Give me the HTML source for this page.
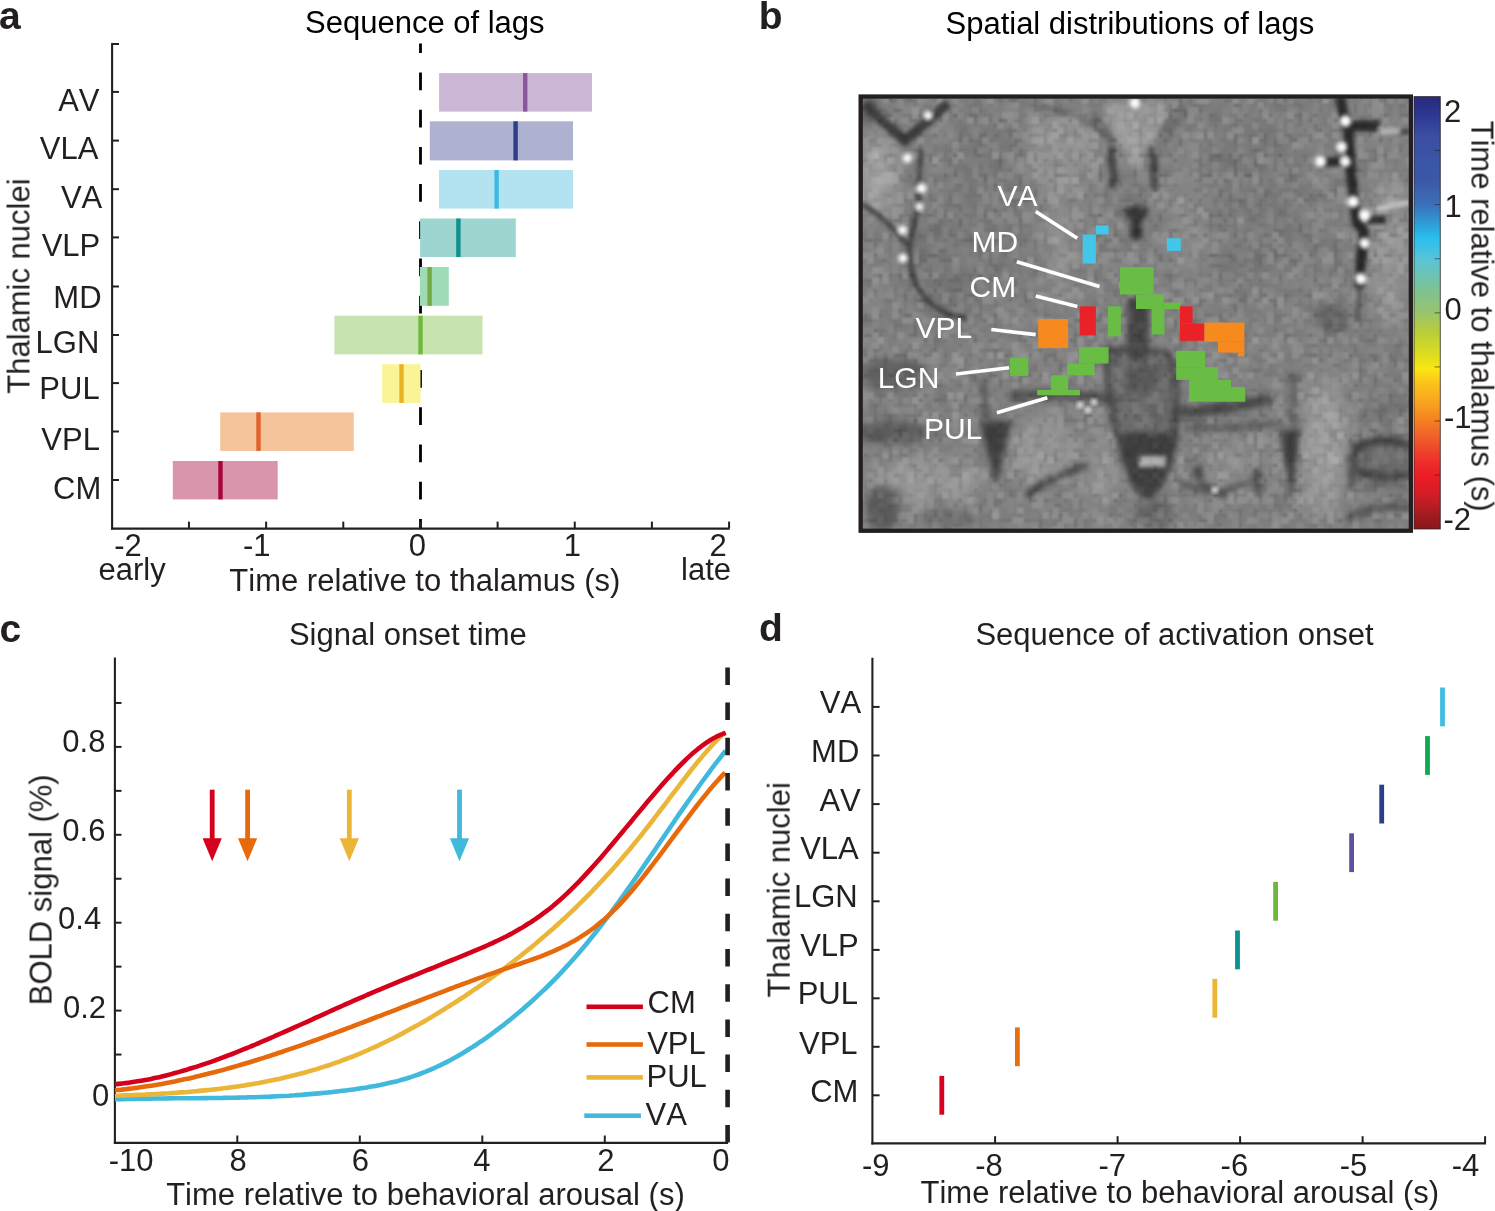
<!DOCTYPE html>
<html><head><meta charset="utf-8"><title>Figure</title>
<style>html,body{margin:0;padding:0;background:#fff;}svg{display:block;font-family:"Liberation Sans",sans-serif;font-kerning:none;}text{will-change:transform;}</style>
</head><body>
<svg width="1495" height="1211" viewBox="0 0 1495 1211">
<rect width="1495" height="1211" fill="#fff"/>
<text x="-0.99" y="28.91" font-size="39" text-anchor="start" fill="#231f20" font-weight="bold" >a</text>
<text x="305" y="33" font-size="31" text-anchor="start" fill="#000" >Sequence of lags</text>
<line x1="420.5" y1="43.5" x2="420.5" y2="528" stroke="#000" stroke-width="2.8" stroke-dasharray="17.7 19.5" stroke-dashoffset="8.2"/>
<rect x="439.10" y="73.10" width="152.90" height="38.50" fill="#cbb6d5" />
<rect x="523.00" y="73.10" width="4.40" height="38.50" fill="#8a569c" />
<rect x="429.80" y="121.30" width="143.20" height="39.10" fill="#aeb1d0" />
<rect x="513.40" y="121.30" width="4.40" height="39.10" fill="#2f3d8b" />
<rect x="439.00" y="170.00" width="134.00" height="38.60" fill="#b3e3f1" />
<rect x="494.40" y="170.00" width="4.40" height="38.60" fill="#40b9e1" />
<rect x="420.10" y="218.50" width="95.70" height="38.50" fill="#9dd5d1" />
<rect x="456.20" y="218.50" width="4.40" height="38.50" fill="#0e918f" />
<rect x="419.90" y="267.00" width="28.90" height="38.80" fill="#9edcb8" />
<rect x="427.40" y="267.00" width="4.40" height="38.80" fill="#74a843" />
<rect x="334.40" y="315.70" width="148.10" height="38.70" fill="#c7e3b0" />
<rect x="418.30" y="315.70" width="4.40" height="38.70" fill="#6dbb3d" />
<rect x="382.20" y="364.20" width="38.30" height="38.70" fill="#faf496" />
<rect x="399.30" y="364.20" width="4.40" height="38.70" fill="#ebb023" />
<rect x="220.20" y="412.40" width="133.60" height="38.50" fill="#f4c49b" />
<rect x="256.30" y="412.40" width="4.40" height="38.50" fill="#e0622a" />
<rect x="172.80" y="461.00" width="104.90" height="38.40" fill="#d995ab" />
<rect x="218.30" y="461.00" width="4.40" height="38.40" fill="#a6053a" />
<line x1="112.1" y1="43.0" x2="112.1" y2="529.6" stroke="#231f20" stroke-width="2.1" />
<line x1="111.05" y1="528.6" x2="729.8" y2="528.6" stroke="#231f20" stroke-width="2.1" />
<line x1="112" y1="91.9" x2="119" y2="91.9" stroke="#231f20" stroke-width="2" />
<line x1="112" y1="140.6" x2="119" y2="140.6" stroke="#231f20" stroke-width="2" />
<line x1="112" y1="189.2" x2="119" y2="189.2" stroke="#231f20" stroke-width="2" />
<line x1="112" y1="237.4" x2="119" y2="237.4" stroke="#231f20" stroke-width="2" />
<line x1="112" y1="286.5" x2="119" y2="286.5" stroke="#231f20" stroke-width="2" />
<line x1="112" y1="335.0" x2="119" y2="335.0" stroke="#231f20" stroke-width="2" />
<line x1="112" y1="383.1" x2="119" y2="383.1" stroke="#231f20" stroke-width="2" />
<line x1="112" y1="431.5" x2="119" y2="431.5" stroke="#231f20" stroke-width="2" />
<line x1="112" y1="480.0" x2="119" y2="480.0" stroke="#231f20" stroke-width="2" />
<line x1="112" y1="44.0" x2="119" y2="44.0" stroke="#231f20" stroke-width="2" />
<line x1="188.95999999999998" y1="528" x2="188.95999999999998" y2="521.6" stroke="#231f20" stroke-width="2" />
<line x1="266.12" y1="528" x2="266.12" y2="521.6" stroke="#231f20" stroke-width="2" />
<line x1="343.28" y1="528" x2="343.28" y2="521.6" stroke="#231f20" stroke-width="2" />
<line x1="420.44" y1="528" x2="420.44" y2="521.6" stroke="#231f20" stroke-width="2" />
<line x1="497.59999999999997" y1="528" x2="497.59999999999997" y2="521.6" stroke="#231f20" stroke-width="2" />
<line x1="574.76" y1="528" x2="574.76" y2="521.6" stroke="#231f20" stroke-width="2" />
<line x1="651.92" y1="528" x2="651.92" y2="521.6" stroke="#231f20" stroke-width="2" />
<line x1="729.0799999999999" y1="528" x2="729.0799999999999" y2="521.6" stroke="#231f20" stroke-width="2" />
<text x="99.5" y="110.7" font-size="31" text-anchor="end" fill="#231f20" >AV</text>
<text x="98.36" y="159.38" font-size="31" text-anchor="end" fill="#231f20" >VLA</text>
<text x="102.3" y="207.7" font-size="31" text-anchor="end" fill="#231f20" >VA</text>
<text x="100.31" y="256.0" font-size="31" text-anchor="end" fill="#231f20" >VLP</text>
<text x="101.54" y="307.78" font-size="31" text-anchor="end" fill="#231f20" >MD</text>
<text x="99.35" y="353.06" font-size="31" text-anchor="end" fill="#231f20" >LGN</text>
<text x="99.67" y="398.78" font-size="31" text-anchor="end" fill="#231f20" >PUL</text>
<text x="99.92" y="450.0" font-size="31" text-anchor="end" fill="#231f20" >VPL</text>
<text x="101.28" y="498.78" font-size="31" text-anchor="end" fill="#231f20" >CM</text>
<text x="114.28" y="556.32" font-size="31" text-anchor="start" fill="#231f20" >-2</text>
<text x="242.9" y="555.96" font-size="31" text-anchor="start" fill="#231f20" >-1</text>
<text x="408.76" y="555.96" font-size="31" text-anchor="start" fill="#231f20" >0</text>
<text x="563.79" y="556.32" font-size="31" text-anchor="start" fill="#231f20" >1</text>
<text x="709.55" y="555.96" font-size="31" text-anchor="start" fill="#231f20" >2</text>
<text x="98.55" y="580.2" font-size="31" text-anchor="start" fill="#231f20" >early</text>
<text x="681.11" y="580.2" font-size="31" text-anchor="start" fill="#231f20" >late</text>
<text x="229.32" y="591.0" font-size="31" text-anchor="start" fill="#231f20" >Time relative to thalamus (s)</text>
<text x="0" y="0" font-size="31" text-anchor="start" fill="#231f20" transform="translate(29.50,393.75) rotate(-90)">Thalamic nuclei</text>
<text x="758.64" y="28.92" font-size="39" text-anchor="start" fill="#231f20" font-weight="bold" >b</text>
<text x="945.47" y="33.5" font-size="31" text-anchor="start" fill="#000" >Spatial distributions of lags</text>
<g id="mri"><defs><clipPath id="mclip"><rect x="862.9" y="98.9" width="545.8000000000001" height="429.80000000000007"/></clipPath><filter id="bl2" x="-30%" y="-30%" width="160%" height="160%"><feGaussianBlur stdDeviation="2"/></filter><filter id="bl3" x="-30%" y="-30%" width="160%" height="160%"><feGaussianBlur stdDeviation="3"/></filter><filter id="bl5" x="-30%" y="-30%" width="160%" height="160%"><feGaussianBlur stdDeviation="5"/></filter><filter id="bl8" x="-30%" y="-30%" width="160%" height="160%"><feGaussianBlur stdDeviation="9"/></filter><filter id="noise" x="0" y="0" width="100%" height="100%" filterUnits="userSpaceOnUse" primitiveUnits="userSpaceOnUse" color-interpolation-filters="sRGB"><feTurbulence type="fractalNoise" baseFrequency="0.35" numOctaves="1" seed="11" result="t"/><feColorMatrix type="matrix" in="t" values="1 0 0 0 0  1 0 0 0 0  1 0 0 0 0  0 0 0 0 1" result="g"/><feFlood x="865" y="100" width="1" height="1" flood-color="#000" result="f"/><feComposite in="f" width="5.3" height="5.3" result="fc"/><feTile in="fc" result="tile"/><feComposite in="g" in2="tile" operator="in" result="s"/><feMorphology in="s" operator="dilate" radius="2.7" result="px"/><feGaussianBlur in="px" stdDeviation="0.9"/></filter></defs>
<g clip-path="url(#mclip)">
<rect x="862.9" y="98.9" width="545.8000000000001" height="429.80000000000007" fill="#7d7d7d"/>
<g filter="url(#bl8)">
<ellipse cx="878" cy="175" rx="18" ry="42" fill="#9c9c9c"/>
<ellipse cx="950" cy="262" rx="42" ry="62" fill="#737373"/>
<ellipse cx="985" cy="200" rx="50" ry="80" fill="#777777"/>
<ellipse cx="1250" cy="205" rx="62" ry="85" fill="#787878"/>
<ellipse cx="1060" cy="220" rx="14" ry="80" fill="#8a8a8a"/>
<ellipse cx="1190" cy="215" rx="12" ry="80" fill="#878787"/>
<ellipse cx="868" cy="112" rx="10" ry="14" fill="#505050"/>
<ellipse cx="1390" cy="250" rx="20" ry="80" fill="#8e8e8e"/>
<ellipse cx="930" cy="482" rx="60" ry="22" fill="#939393"/>
<ellipse cx="888" cy="508" rx="13" ry="17" fill="#6c6c6c"/>
<ellipse cx="1325" cy="445" rx="25" ry="70" fill="#959595"/>
<ellipse cx="1382" cy="462" rx="33" ry="26" fill="#5e5e5e"/>
<ellipse cx="1385" cy="408" rx="25" ry="12" fill="#6a6a6a"/>
<ellipse cx="1062" cy="150" rx="38" ry="40" fill="#8b8b8b"/>
<ellipse cx="1040" cy="452" rx="32" ry="36" fill="#919191"/>
<ellipse cx="1100" cy="470" rx="18" ry="40" fill="#8c8c8c"/>
<ellipse cx="1240" cy="470" rx="35" ry="30" fill="#868686"/>
<ellipse cx="1333" cy="318" rx="25" ry="16" fill="#707070"/>
<ellipse cx="1120" cy="120" rx="15" ry="20" fill="#7a7a7a"/>
</g>
<g filter="url(#bl5)" opacity="0.9">
<ellipse cx="893" cy="373" rx="33" ry="16" fill="#5a5a5a"/>
<ellipse cx="893" cy="432" rx="35" ry="13" fill="#555555"/>
<ellipse cx="888" cy="505" rx="10" ry="14" fill="#5c5c5c"/>
</g>
<g filter="url(#bl3)">
<path d="M1108,349 C1106,370 1109,390 1111,400 C1114,425 1122,455 1132,478 C1137,490 1142,497 1148,497 C1155,495 1162,480 1168,468 C1174,450 1178,420 1177,395 C1176,375 1172,362 1168,353 Z" fill="#686868"/>
<path d="M1122,432 C1124,455 1134,482 1147,494 C1160,484 1170,460 1174,432 Z" fill="#3e3e3e"/>
<path d="M1108,349 C1106,370 1109,390 1111,400 C1114,425 1122,455 1132,478 C1137,490 1142,497 1148,497 C1155,495 1162,480 1168,468 C1174,450 1178,420 1177,395 C1176,375 1172,362 1168,353 Z" stroke="#3c3c3c" stroke-width="6" fill="none"/>
<ellipse cx="1141" cy="379" rx="16" ry="17" fill="#575757"/>
<rect x="1127" y="298" width="22" height="62" fill="#424242"/>
<path d="M1124,213 L1148,213 M1136,206 L1137,240" stroke="#2e2e2e" stroke-width="11" fill="none"/>
<polygon points="1100,104 1168,104 1150,145 1136,172 1120,145" fill="#969696"/>
<path d="M1009,396 C1040,393 1070,394 1108,398" stroke="#464646" stroke-width="9" fill="none"/>
<path d="M1170,412 C1200,414 1240,406 1272,398" stroke="#474747" stroke-width="12" fill="none"/>
<path d="M1185,428 C1220,429 1255,426 1282,422" stroke="#5c5c5c" stroke-width="7" fill="none"/>
<polygon points="980,421 1012,421 996,488" fill="#3e3e3e"/>
<path d="M982,380 L987,425" stroke="#555" stroke-width="7" fill="none"/>
<polygon points="1280,430 1300,430 1292,503" fill="#3a3a3a"/>
<path d="M1292,371 L1294,430" stroke="#5a5a5a" stroke-width="6" fill="none"/>
<ellipse cx="1385" cy="462" rx="32" ry="24" fill="#6a6a6a"/>
<path d="M1412,446 C1395,440 1370,438 1356,450 M1412,474 C1395,478 1372,478 1358,470" stroke="#363636" stroke-width="7" fill="none"/>
<ellipse cx="1332" cy="319" rx="16" ry="12" fill="#5e5e5e"/>
<ellipse cx="1198" cy="472" rx="5" ry="8" fill="#444"/>
<path d="M1025,496 L1080,465" stroke="#505050" stroke-width="5" fill="none"/>
<path d="M1198,478 C1208,488 1218,494 1226,498" stroke="#4a4a4a" stroke-width="6" fill="none"/>
<path d="M1254,474 L1262,488" stroke="#505050" stroke-width="6" fill="none"/>
<ellipse cx="882" cy="508" rx="16" ry="22" fill="#5c5c5c"/>
<ellipse cx="950" cy="520" rx="28" ry="10" fill="#6e6e6e"/>
<ellipse cx="1155" cy="514" rx="20" ry="16" fill="#686868"/>
<path d="M1180,482 C1195,490 1210,494 1228,490 C1240,486 1252,480 1265,476" stroke="#484848" stroke-width="5" fill="none"/>
<path d="M1257,467 L1259,496" stroke="#4a4a4a" stroke-width="6" fill="none"/>
<path d="M1029,493 C1040,485 1050,478 1062,475 C1072,472 1082,470 1088,463" stroke="#404040" stroke-width="5" fill="none"/>
<circle cx="1031" cy="493" r="4" fill="#2e2e2e"/>
<path d="M1355,440 L1352,488" stroke="#4a4a4a" stroke-width="8" fill="none"/>
<path d="M1345,520 C1360,508 1385,505 1410,508" stroke="#505050" stroke-width="7" fill="none"/>
</g>
<g filter="url(#bl2)">
<path d="M864,104 L905,141 L948,103" stroke="#3a3a3a" stroke-width="10" fill="none" stroke-linejoin="round"/>
<path d="M862,204 C880,215 895,228 908,246" stroke="#404040" stroke-width="5" fill="none"/>
<path d="M921,150 L918,205 L910,245 C909,270 914,285 925,298 C938,311 950,316 966,318" stroke="#3e3e3e" stroke-width="5" fill="none"/>
<path d="M1112,143 L1113,188" stroke="#444" stroke-width="8" fill="none"/>
<path d="M1090,112 L1113,143" stroke="#686868" stroke-width="9" fill="none"/>
<path d="M1186,110 L1157,147" stroke="#686868" stroke-width="9" fill="none"/>
<path d="M1153,147 L1155,190" stroke="#444" stroke-width="8" fill="none"/>
<path d="M1040,107 C1070,110 1100,125 1113,147" stroke="#6a6a6a" stroke-width="5" fill="none"/>
<path d="M1182,105 C1167,120 1158,135 1156,155" stroke="#6a6a6a" stroke-width="5" fill="none"/>
<path d="M1340,97 L1344,116 L1349,135 L1351,174 L1357,222 L1364,232 L1361,260 L1359,288" stroke="#262626" stroke-width="10" fill="none"/>
<path d="M1359,288 L1358,320" stroke="#555" stroke-width="6" fill="none"/>
<path d="M1350,126 L1380,126" stroke="#262626" stroke-width="11" fill="none"/>
<path d="M1395,132 L1410,132" stroke="#3a3a3a" stroke-width="5" fill="none"/>
<path d="M1318,163 L1342,161" stroke="#262626" stroke-width="9" fill="none"/>
<path d="M1366,220 L1386,220" stroke="#2a2a2a" stroke-width="8" fill="none"/>
<path d="M1376,209 L1410,202" stroke="#d2d2d2" stroke-width="4" fill="none"/>
<path d="M1379,131 L1399,131" stroke="#bababa" stroke-width="6" fill="none"/>
<rect x="1139" y="456" width="27" height="11" fill="#a6a6a6"/>
</g>
<circle cx="907.2" cy="158.2" r="4.6" fill="#ffffff" filter="url(#bl2)"/>
<circle cx="921.2" cy="188.3" r="5.2" fill="#ffffff" filter="url(#bl2)"/>
<circle cx="919.2" cy="206.4" r="4.0" fill="#ffffff" filter="url(#bl2)"/>
<circle cx="928.2" cy="115.6" r="4.6" fill="#ffffff" filter="url(#bl2)"/>
<circle cx="902.5" cy="230" r="4.6" fill="#ffffff" filter="url(#bl2)"/>
<circle cx="903" cy="258" r="4.6" fill="#ffffff" filter="url(#bl2)"/>
<circle cx="1135" cy="103" r="5.2" fill="#ffffff" filter="url(#bl2)"/>
<circle cx="1345.4" cy="121" r="5.8" fill="#ffffff" filter="url(#bl2)"/>
<circle cx="1341.5" cy="147" r="5.2" fill="#ffffff" filter="url(#bl2)"/>
<circle cx="1320.4" cy="161.4" r="5.8" fill="#ffffff" filter="url(#bl2)"/>
<circle cx="1345.4" cy="161.4" r="5.2" fill="#ffffff" filter="url(#bl2)"/>
<circle cx="1353" cy="201.8" r="5.8" fill="#ffffff" filter="url(#bl2)"/>
<circle cx="1364.6" cy="215.3" r="5.8" fill="#ffffff" filter="url(#bl2)"/>
<circle cx="1364.6" cy="243.2" r="5.2" fill="#ffffff" filter="url(#bl2)"/>
<circle cx="1360.8" cy="278.7" r="5.8" fill="#ffffff" filter="url(#bl2)"/>
<circle cx="1080" cy="405" r="2.9" fill="#ffffff" filter="url(#bl2)"/>
<circle cx="1088" cy="410" r="2.9" fill="#ffffff" filter="url(#bl2)"/>
<circle cx="1094" cy="402" r="2.9" fill="#ffffff" filter="url(#bl2)"/>
<circle cx="1215" cy="490" r="2.9" fill="#ffffff" filter="url(#bl2)"/>
<rect x="862.9" y="98.9" width="545.8000000000001" height="429.80000000000007" filter="url(#noise)" opacity="0.35" style="mix-blend-mode:overlay"/>
<rect x="1082.7" y="234.5" width="13.2" height="29.1" fill="#43c6e8"/>
<rect x="1095.9" y="225.4" width="12.7" height="9.1" fill="#43c6e8"/>
<rect x="1166.8" y="238.2" width="14.0" height="12.7" fill="#43c6e8"/>
<rect x="1120.0" y="267.2" width="33.5" height="27.3" fill="#69bd45"/>
<ellipse cx="1124" cy="285" rx="5.5" ry="7" fill="#69bd45"/>
<rect x="1136.0" y="294.5" width="27.5" height="14.5" fill="#69bd45"/>
<rect x="1151.7" y="309.0" width="12.7" height="25.5" fill="#69bd45"/>
<rect x="1163.5" y="302.6" width="17.3" height="6.4" fill="#69bd45"/>
<rect x="1108.0" y="306.3" width="12.8" height="30.0" fill="#69bd45"/>
<rect x="1079.6" y="306.3" width="16.3" height="29.1" fill="#eb2128"/>
<rect x="1179.9" y="306.3" width="12.7" height="17.2" fill="#eb2128"/>
<rect x="1179.9" y="323.5" width="24.5" height="17.3" fill="#eb2128"/>
<rect x="1038.2" y="319.0" width="29.9" height="29.1" fill="#f68a1f"/>
<rect x="1204.4" y="322.6" width="40.0" height="19.1" fill="#f68a1f"/>
<rect x="1218.0" y="341.7" width="26.4" height="10.9" fill="#f68a1f"/>
<rect x="1238.0" y="352.6" width="6.4" height="3.7" fill="#f68a1f"/>
<rect x="1079.0" y="347.2" width="29.6" height="16.3" fill="#69bd45"/>
<rect x="1067.2" y="363.5" width="27.3" height="11.8" fill="#69bd45"/>
<rect x="1050.9" y="375.3" width="17.2" height="15.5" fill="#69bd45"/>
<rect x="1037.2" y="389.9" width="42.8" height="5.4" fill="#69bd45"/>
<rect x="1010.0" y="357.7" width="18.2" height="18.2" fill="#69bd45"/>
<rect x="1176.2" y="350.8" width="29.1" height="16.4" fill="#69bd45"/>
<rect x="1176.2" y="367.2" width="41.8" height="12.7" fill="#69bd45"/>
<rect x="1189.0" y="379.9" width="42.0" height="7.2" fill="#69bd45"/>
<rect x="1189.0" y="387.1" width="56.3" height="14.6" fill="#69bd45"/>
<line x1="1035.7" y1="211.6" x2="1077.3" y2="238.2" stroke="#fff" stroke-width="3.6"/>
<line x1="1016.8" y1="261.8" x2="1099.5" y2="286.5" stroke="#fff" stroke-width="3.6"/>
<line x1="1035.7" y1="296" x2="1077.3" y2="306.4" stroke="#fff" stroke-width="3.6"/>
<line x1="991.3" y1="329.5" x2="1035.7" y2="334.6" stroke="#fff" stroke-width="3.6"/>
<line x1="956" y1="374" x2="1009.1" y2="367.7" stroke="#fff" stroke-width="3.6"/>
<line x1="996.9" y1="412.8" x2="1047.3" y2="397.7" stroke="#fff" stroke-width="3.6"/>
<text x="997.5" y="206.3" font-size="30" fill="#fff">VA</text>
<text x="971.5" y="252.1" font-size="30" fill="#fff">MD</text>
<text x="969.5" y="297.2" font-size="30" fill="#fff">CM</text>
<text x="915.5" y="338.3" font-size="30" fill="#fff">VPL</text>
<text x="877.7" y="387.8" font-size="30" fill="#fff">LGN</text>
<text x="923.9" y="439.4" font-size="30" fill="#fff">PUL</text>
</g>
<rect x="860.7" y="96.6" width="550.1" height="434.1" fill="none" stroke="#231f20" stroke-width="4.4"/></g>
<defs><linearGradient id="cb" x1="0" y1="0" x2="0" y2="1">
<stop offset="0.0" stop-color="#2a2a7c"/>
<stop offset="0.037" stop-color="#2b3590"/>
<stop offset="0.09" stop-color="#3a4ea3"/>
<stop offset="0.153" stop-color="#3b55a6"/>
<stop offset="0.193" stop-color="#3a58a7"/>
<stop offset="0.216" stop-color="#3d62ae"/>
<stop offset="0.248" stop-color="#3a6fb7"/>
<stop offset="0.292" stop-color="#2f9ad5"/>
<stop offset="0.327" stop-color="#29bfee"/>
<stop offset="0.377" stop-color="#5ac4d8"/>
<stop offset="0.416" stop-color="#6ec3b0"/>
<stop offset="0.456" stop-color="#82c28c"/>
<stop offset="0.5" stop-color="#98c56c"/>
<stop offset="0.54" stop-color="#b6cc3e"/>
<stop offset="0.589" stop-color="#d7da22"/>
<stop offset="0.629" stop-color="#fbe712"/>
<stop offset="0.664" stop-color="#fbc21a"/>
<stop offset="0.713" stop-color="#f7a020"/>
<stop offset="0.752" stop-color="#f47d21"/>
<stop offset="0.78" stop-color="#f1652a"/>
<stop offset="0.813" stop-color="#ee4a2a"/>
<stop offset="0.846" stop-color="#ed2e2a"/>
<stop offset="0.877" stop-color="#ec1c24"/>
<stop offset="0.912" stop-color="#d91d27"/>
<stop offset="0.945" stop-color="#b91e24"/>
<stop offset="0.978" stop-color="#981a1d"/>
<stop offset="1.0" stop-color="#8a171a"/>
</linearGradient></defs>
<rect x="1414.00" y="96.60" width="26.30" height="432.40" fill="url(#cb)" stroke="#231f20" stroke-width="1" stroke-opacity="0.75"/>
<line x1="1434.5" y1="150.5" x2="1440" y2="150.5" stroke="#222" stroke-width="1.2" opacity="0.5"/>
<line x1="1434.5" y1="204.60000000000002" x2="1440" y2="204.60000000000002" stroke="#222" stroke-width="1.2" opacity="0.5"/>
<line x1="1434.5" y1="258.70000000000005" x2="1440" y2="258.70000000000005" stroke="#222" stroke-width="1.2" opacity="0.5"/>
<line x1="1434.5" y1="312.8" x2="1440" y2="312.8" stroke="#222" stroke-width="1.2" opacity="0.5"/>
<line x1="1434.5" y1="366.9" x2="1440" y2="366.9" stroke="#222" stroke-width="1.2" opacity="0.5"/>
<line x1="1434.5" y1="421.0" x2="1440" y2="421.0" stroke="#222" stroke-width="1.2" opacity="0.5"/>
<line x1="1434.5" y1="475.1" x2="1440" y2="475.1" stroke="#222" stroke-width="1.2" opacity="0.5"/>
<text x="1444.03" y="122.19" font-size="31" text-anchor="start" fill="#231f20" >2</text>
<text x="1444.46" y="217.06" font-size="31" text-anchor="start" fill="#231f20" >1</text>
<text x="1444.51" y="320.45" font-size="31" text-anchor="start" fill="#231f20" >0</text>
<text x="1443.9" y="428.28" font-size="31" text-anchor="start" fill="#231f20" >-1</text>
<text x="1443.5" y="530.05" font-size="31" text-anchor="start" fill="#231f20" >-2</text>
<text x="0" y="0" font-size="31" text-anchor="start" fill="#231f20" transform="translate(1471.42,120.58) rotate(90)">Time relative to thalamus (s)</text>
<text x="-0.45" y="642.45" font-size="39" text-anchor="start" fill="#231f20" font-weight="bold" >c</text>
<text x="288.91" y="644.6" font-size="31" text-anchor="start" fill="#231f20" >Signal onset time</text>
<line x1="114.9" y1="657.5" x2="114.9" y2="1144" stroke="#231f20" stroke-width="2.1" />
<line x1="113.85" y1="1142.9" x2="728" y2="1142.9" stroke="#231f20" stroke-width="2.1" />
<line x1="115" y1="1098.5" x2="121.5" y2="1098.5" stroke="#231f20" stroke-width="2" />
<line x1="115" y1="1054.55" x2="121.5" y2="1054.55" stroke="#231f20" stroke-width="2" />
<line x1="115" y1="1010.6" x2="121.5" y2="1010.6" stroke="#231f20" stroke-width="2" />
<line x1="115" y1="966.65" x2="121.5" y2="966.65" stroke="#231f20" stroke-width="2" />
<line x1="115" y1="922.7" x2="121.5" y2="922.7" stroke="#231f20" stroke-width="2" />
<line x1="115" y1="878.75" x2="121.5" y2="878.75" stroke="#231f20" stroke-width="2" />
<line x1="115" y1="834.8" x2="121.5" y2="834.8" stroke="#231f20" stroke-width="2" />
<line x1="115" y1="790.8499999999999" x2="121.5" y2="790.8499999999999" stroke="#231f20" stroke-width="2" />
<line x1="115" y1="746.9" x2="121.5" y2="746.9" stroke="#231f20" stroke-width="2" />
<line x1="115" y1="702.95" x2="121.5" y2="702.95" stroke="#231f20" stroke-width="2" />
<line x1="237.3" y1="1142" x2="237.3" y2="1135.5" stroke="#231f20" stroke-width="2" />
<line x1="359.8" y1="1142" x2="359.8" y2="1135.5" stroke="#231f20" stroke-width="2" />
<line x1="482.3" y1="1142" x2="482.3" y2="1135.5" stroke="#231f20" stroke-width="2" />
<line x1="604.8" y1="1142" x2="604.8" y2="1135.5" stroke="#231f20" stroke-width="2" />
<line x1="727.3" y1="1142" x2="727.3" y2="1135.5" stroke="#231f20" stroke-width="2" />
<text x="105.46" y="752.22" font-size="31" text-anchor="end" fill="#231f20" >0.8</text>
<text x="105.48" y="841.0" font-size="31" text-anchor="end" fill="#231f20" >0.6</text>
<text x="101.22" y="929.0" font-size="31" text-anchor="end" fill="#231f20" >0.4</text>
<text x="106.06" y="1017.78" font-size="31" text-anchor="end" fill="#231f20" >0.2</text>
<text x="109.36" y="1105.86" font-size="31" text-anchor="end" fill="#231f20" >0</text>
<text x="108.7" y="1170.69" font-size="31" text-anchor="start" fill="#231f20" >-10</text>
<text x="229.43" y="1170.78" font-size="31" text-anchor="start" fill="#231f20" >8</text>
<text x="351.79" y="1170.69" font-size="31" text-anchor="start" fill="#231f20" >6</text>
<text x="473.18" y="1170.69" font-size="31" text-anchor="start" fill="#231f20" >4</text>
<text x="597.28" y="1170.69" font-size="31" text-anchor="start" fill="#231f20" >2</text>
<text x="712.37" y="1170.69" font-size="31" text-anchor="start" fill="#231f20" >0</text>
<text x="166.15" y="1205.0" font-size="31" text-anchor="start" fill="#231f20" >Time relative to behavioral arousal (s)</text>
<text x="0" y="0" font-size="31" text-anchor="start" fill="#231f20" transform="translate(51.54,1005.26) rotate(-90)">BOLD signal (%)</text>
<path d="M115.0,1099.3 C116.0,1099.3 119.0,1099.2 121.0,1099.2 C123.0,1099.1 125.0,1099.1 127.0,1099.0 C129.0,1099.0 131.0,1098.9 133.0,1098.9 C135.0,1098.8 137.0,1098.8 139.0,1098.8 C141.0,1098.7 143.0,1098.7 145.0,1098.7 C147.0,1098.6 149.0,1098.6 151.0,1098.6 C153.0,1098.6 155.0,1098.5 157.0,1098.5 C159.0,1098.5 161.0,1098.5 163.0,1098.5 C165.0,1098.4 167.0,1098.4 169.0,1098.4 C171.0,1098.4 173.0,1098.4 175.0,1098.3 C177.0,1098.3 179.0,1098.3 181.0,1098.3 C183.0,1098.3 185.0,1098.3 187.0,1098.3 C189.0,1098.2 191.0,1098.2 193.0,1098.2 C195.0,1098.2 197.0,1098.2 199.0,1098.2 C201.0,1098.1 203.0,1098.1 205.0,1098.1 C207.0,1098.1 209.0,1098.1 211.0,1098.0 C213.0,1098.0 215.0,1098.0 217.0,1098.0 C219.0,1097.9 221.0,1097.9 223.0,1097.9 C225.0,1097.8 227.0,1097.8 229.0,1097.8 C231.0,1097.7 233.0,1097.7 235.0,1097.7 C237.0,1097.6 239.0,1097.6 241.0,1097.5 C243.0,1097.5 245.0,1097.4 247.0,1097.4 C249.0,1097.3 251.0,1097.3 253.0,1097.2 C255.0,1097.2 257.0,1097.1 259.0,1097.0 C261.0,1097.0 263.0,1096.9 265.0,1096.8 C267.0,1096.7 269.0,1096.7 271.0,1096.6 C273.0,1096.5 275.0,1096.4 277.0,1096.3 C279.0,1096.2 281.0,1096.1 283.0,1096.0 C285.0,1095.9 287.0,1095.8 289.0,1095.7 C291.0,1095.5 293.0,1095.4 295.0,1095.3 C297.0,1095.1 299.0,1095.0 301.0,1094.9 C303.0,1094.7 305.0,1094.6 307.0,1094.4 C309.0,1094.3 311.0,1094.1 313.0,1093.9 C315.0,1093.8 317.0,1093.6 319.0,1093.4 C321.0,1093.2 323.0,1093.0 325.0,1092.8 C327.0,1092.6 329.0,1092.4 331.0,1092.2 C333.0,1092.0 335.0,1091.8 337.0,1091.5 C339.0,1091.3 341.0,1091.1 343.0,1090.8 C345.0,1090.6 347.0,1090.3 349.0,1090.0 C351.0,1089.8 353.0,1089.5 355.0,1089.2 C357.0,1088.9 359.0,1088.6 361.0,1088.3 C363.0,1088.0 365.0,1087.7 367.0,1087.4 C369.0,1087.0 371.0,1086.7 373.0,1086.3 C375.0,1086.0 377.0,1085.6 379.0,1085.2 C381.0,1084.8 383.0,1084.4 385.0,1084.0 C387.0,1083.6 389.0,1083.1 391.0,1082.6 C393.0,1082.2 395.0,1081.7 397.0,1081.2 C399.0,1080.6 401.0,1080.1 403.0,1079.5 C405.0,1078.9 407.0,1078.3 409.0,1077.7 C411.0,1077.1 413.0,1076.4 415.0,1075.7 C417.0,1075.0 419.0,1074.3 421.0,1073.5 C423.0,1072.7 425.0,1072.0 427.0,1071.1 C429.0,1070.3 431.0,1069.5 433.0,1068.6 C435.0,1067.7 437.0,1066.8 439.0,1065.8 C441.0,1064.9 443.0,1063.9 445.0,1062.9 C447.0,1061.9 449.0,1060.8 451.0,1059.8 C453.0,1058.7 455.0,1057.6 457.0,1056.5 C459.0,1055.3 461.0,1054.2 463.0,1053.0 C465.0,1051.8 467.0,1050.6 469.0,1049.3 C471.0,1048.0 473.0,1046.8 475.0,1045.5 C477.0,1044.1 479.0,1042.8 481.0,1041.4 C483.0,1040.1 485.0,1038.7 487.0,1037.3 C489.0,1035.8 491.0,1034.4 493.0,1032.9 C495.0,1031.4 497.0,1029.9 499.0,1028.4 C501.0,1026.9 503.0,1025.3 505.0,1023.8 C507.0,1022.2 509.0,1020.6 511.0,1019.0 C513.0,1017.4 515.0,1015.7 517.0,1014.0 C519.0,1012.4 521.0,1010.7 523.0,1009.0 C525.0,1007.2 527.0,1005.5 529.0,1003.7 C531.0,1001.9 533.0,1000.1 535.0,998.3 C537.0,996.5 539.0,994.6 541.0,992.7 C543.0,990.8 545.0,988.9 547.0,987.0 C549.0,985.0 551.0,983.0 553.0,981.0 C555.0,979.0 557.0,976.9 559.0,974.8 C561.0,972.7 563.0,970.6 565.0,968.4 C567.0,966.2 569.0,964.0 571.0,961.8 C573.0,959.6 575.0,957.3 577.0,955.0 C579.0,952.7 581.0,950.3 583.0,948.0 C585.0,945.6 587.0,943.2 589.0,940.7 C591.0,938.3 593.0,935.8 595.0,933.3 C597.0,930.8 599.0,928.2 601.0,925.6 C603.0,923.1 605.0,920.4 607.0,917.8 C609.0,915.2 611.0,912.5 613.0,909.8 C615.0,907.0 617.0,904.3 619.0,901.5 C621.0,898.8 623.0,896.0 625.0,893.2 C627.0,890.3 629.0,887.5 631.0,884.6 C633.0,881.8 635.0,878.9 637.0,876.0 C639.0,873.1 641.0,870.2 643.0,867.3 C645.0,864.4 647.0,861.4 649.0,858.5 C651.0,855.6 653.0,852.6 655.0,849.7 C657.0,846.7 659.0,843.8 661.0,840.8 C663.0,837.9 665.0,834.9 667.0,832.0 C669.0,829.0 671.0,826.1 673.0,823.2 C675.0,820.3 677.0,817.3 679.0,814.4 C681.0,811.5 683.0,808.6 685.0,805.8 C687.0,802.9 689.0,800.1 691.0,797.2 C693.0,794.4 695.0,791.6 697.0,788.8 C699.0,786.0 701.0,783.2 703.0,780.5 C705.0,777.7 707.0,775.0 709.0,772.3 C711.0,769.6 713.0,767.0 715.0,764.4 C717.0,761.7 719.2,758.9 721.0,756.6 C722.8,754.3 724.9,751.6 725.7,750.6" fill="none" stroke="#41b9dc" stroke-width="4.6"/>
<path d="M115.0,1095.7 C116.0,1095.7 119.0,1095.6 121.0,1095.5 C123.0,1095.4 125.0,1095.4 127.0,1095.3 C129.0,1095.2 131.0,1095.1 133.0,1095.1 C135.0,1095.0 137.0,1094.9 139.0,1094.8 C141.0,1094.7 143.0,1094.6 145.0,1094.6 C147.0,1094.5 149.0,1094.4 151.0,1094.3 C153.0,1094.2 155.0,1094.1 157.0,1094.0 C159.0,1093.9 161.0,1093.7 163.0,1093.6 C165.0,1093.5 167.0,1093.4 169.0,1093.3 C171.0,1093.1 173.0,1093.0 175.0,1092.9 C177.0,1092.7 179.0,1092.6 181.0,1092.4 C183.0,1092.3 185.0,1092.1 187.0,1092.0 C189.0,1091.8 191.0,1091.7 193.0,1091.5 C195.0,1091.3 197.0,1091.1 199.0,1090.9 C201.0,1090.8 203.0,1090.6 205.0,1090.4 C207.0,1090.2 209.0,1090.0 211.0,1089.7 C213.0,1089.5 215.0,1089.3 217.0,1089.1 C219.0,1088.8 221.0,1088.6 223.0,1088.3 C225.0,1088.1 227.0,1087.8 229.0,1087.6 C231.0,1087.3 233.0,1087.0 235.0,1086.7 C237.0,1086.5 239.0,1086.2 241.0,1085.9 C243.0,1085.6 245.0,1085.3 247.0,1084.9 C249.0,1084.6 251.0,1084.3 253.0,1083.9 C255.0,1083.6 257.0,1083.2 259.0,1082.9 C261.0,1082.5 263.0,1082.1 265.0,1081.7 C267.0,1081.4 269.0,1081.0 271.0,1080.6 C273.0,1080.1 275.0,1079.7 277.0,1079.3 C279.0,1078.9 281.0,1078.4 283.0,1078.0 C285.0,1077.5 287.0,1077.0 289.0,1076.6 C291.0,1076.1 293.0,1075.6 295.0,1075.1 C297.0,1074.6 299.0,1074.0 301.0,1073.5 C303.0,1073.0 305.0,1072.4 307.0,1071.9 C309.0,1071.3 311.0,1070.7 313.0,1070.1 C315.0,1069.6 317.0,1069.0 319.0,1068.3 C321.0,1067.7 323.0,1067.1 325.0,1066.4 C327.0,1065.8 329.0,1065.1 331.0,1064.5 C333.0,1063.8 335.0,1063.1 337.0,1062.4 C339.0,1061.7 341.0,1060.9 343.0,1060.2 C345.0,1059.5 347.0,1058.7 349.0,1057.9 C351.0,1057.2 353.0,1056.4 355.0,1055.6 C357.0,1054.8 359.0,1053.9 361.0,1053.1 C363.0,1052.3 365.0,1051.4 367.0,1050.5 C369.0,1049.6 371.0,1048.8 373.0,1047.8 C375.0,1046.9 377.0,1046.0 379.0,1045.1 C381.0,1044.1 383.0,1043.2 385.0,1042.2 C387.0,1041.2 389.0,1040.3 391.0,1039.3 C393.0,1038.3 395.0,1037.2 397.0,1036.2 C399.0,1035.2 401.0,1034.1 403.0,1033.1 C405.0,1032.0 407.0,1030.9 409.0,1029.8 C411.0,1028.7 413.0,1027.6 415.0,1026.5 C417.0,1025.4 419.0,1024.3 421.0,1023.1 C423.0,1022.0 425.0,1020.8 427.0,1019.7 C429.0,1018.5 431.0,1017.3 433.0,1016.1 C435.0,1014.9 437.0,1013.7 439.0,1012.5 C441.0,1011.3 443.0,1010.0 445.0,1008.8 C447.0,1007.5 449.0,1006.3 451.0,1005.0 C453.0,1003.7 455.0,1002.5 457.0,1001.2 C459.0,999.9 461.0,998.6 463.0,997.3 C465.0,996.0 467.0,994.6 469.0,993.3 C471.0,992.0 473.0,990.6 475.0,989.2 C477.0,987.9 479.0,986.5 481.0,985.1 C483.0,983.7 485.0,982.3 487.0,980.9 C489.0,979.5 491.0,978.1 493.0,976.7 C495.0,975.2 497.0,973.8 499.0,972.3 C501.0,970.8 503.0,969.3 505.0,967.8 C507.0,966.3 509.0,964.8 511.0,963.3 C513.0,961.8 515.0,960.2 517.0,958.7 C519.0,957.1 521.0,955.5 523.0,953.9 C525.0,952.3 527.0,950.7 529.0,949.1 C531.0,947.5 533.0,945.8 535.0,944.2 C537.0,942.5 539.0,940.8 541.0,939.1 C543.0,937.4 545.0,935.7 547.0,933.9 C549.0,932.2 551.0,930.4 553.0,928.7 C555.0,926.9 557.0,925.1 559.0,923.3 C561.0,921.5 563.0,919.6 565.0,917.8 C567.0,915.9 569.0,914.0 571.0,912.1 C573.0,910.2 575.0,908.3 577.0,906.3 C579.0,904.4 581.0,902.4 583.0,900.4 C585.0,898.4 587.0,896.4 589.0,894.4 C591.0,892.3 593.0,890.3 595.0,888.2 C597.0,886.1 599.0,884.0 601.0,881.8 C603.0,879.7 605.0,877.5 607.0,875.3 C609.0,873.1 611.0,870.9 613.0,868.7 C615.0,866.4 617.0,864.1 619.0,861.8 C621.0,859.5 623.0,857.2 625.0,854.8 C627.0,852.5 629.0,850.1 631.0,847.7 C633.0,845.3 635.0,842.8 637.0,840.4 C639.0,837.9 641.0,835.4 643.0,832.8 C645.0,830.3 647.0,827.7 649.0,825.2 C651.0,822.6 653.0,820.0 655.0,817.4 C657.0,814.8 659.0,812.1 661.0,809.5 C663.0,806.9 665.0,804.2 667.0,801.6 C669.0,798.9 671.0,796.3 673.0,793.7 C675.0,791.0 677.0,788.4 679.0,785.8 C681.0,783.2 683.0,780.5 685.0,778.0 C687.0,775.4 689.0,772.8 691.0,770.3 C693.0,767.8 695.0,765.3 697.0,762.8 C699.0,760.4 701.0,758.0 703.0,755.6 C705.0,753.3 707.0,751.0 709.0,748.7 C711.0,746.5 713.0,744.3 715.0,742.2 C717.0,740.0 719.3,737.7 721.0,736.0 C722.7,734.3 724.4,732.7 725.1,732.1" fill="none" stroke="#ebb538" stroke-width="4.6"/>
<path d="M115.0,1090.2 C116.0,1090.1 119.0,1089.9 121.0,1089.7 C123.0,1089.5 125.0,1089.2 127.0,1089.0 C129.0,1088.8 131.0,1088.5 133.0,1088.3 C135.0,1088.0 137.0,1087.8 139.0,1087.5 C141.0,1087.2 143.0,1086.9 145.0,1086.6 C147.0,1086.3 149.0,1086.0 151.0,1085.7 C153.0,1085.4 155.0,1085.1 157.0,1084.7 C159.0,1084.4 161.0,1084.0 163.0,1083.7 C165.0,1083.3 167.0,1082.9 169.0,1082.6 C171.0,1082.2 173.0,1081.8 175.0,1081.4 C177.0,1081.0 179.0,1080.6 181.0,1080.1 C183.0,1079.7 185.0,1079.3 187.0,1078.8 C189.0,1078.4 191.0,1077.9 193.0,1077.5 C195.0,1077.0 197.0,1076.5 199.0,1076.1 C201.0,1075.6 203.0,1075.1 205.0,1074.6 C207.0,1074.1 209.0,1073.6 211.0,1073.1 C213.0,1072.6 215.0,1072.1 217.0,1071.5 C219.0,1071.0 221.0,1070.5 223.0,1069.9 C225.0,1069.4 227.0,1068.8 229.0,1068.3 C231.0,1067.7 233.0,1067.1 235.0,1066.6 C237.0,1066.0 239.0,1065.4 241.0,1064.8 C243.0,1064.2 245.0,1063.6 247.0,1063.0 C249.0,1062.4 251.0,1061.8 253.0,1061.2 C255.0,1060.6 257.0,1059.9 259.0,1059.3 C261.0,1058.7 263.0,1058.0 265.0,1057.4 C267.0,1056.8 269.0,1056.1 271.0,1055.5 C273.0,1054.8 275.0,1054.2 277.0,1053.5 C279.0,1052.8 281.0,1052.2 283.0,1051.5 C285.0,1050.8 287.0,1050.1 289.0,1049.4 C291.0,1048.8 293.0,1048.1 295.0,1047.4 C297.0,1046.7 299.0,1046.0 301.0,1045.3 C303.0,1044.6 305.0,1043.9 307.0,1043.1 C309.0,1042.4 311.0,1041.7 313.0,1041.0 C315.0,1040.3 317.0,1039.6 319.0,1038.8 C321.0,1038.1 323.0,1037.4 325.0,1036.6 C327.0,1035.9 329.0,1035.2 331.0,1034.4 C333.0,1033.7 335.0,1032.9 337.0,1032.2 C339.0,1031.5 341.0,1030.7 343.0,1030.0 C345.0,1029.2 347.0,1028.4 349.0,1027.7 C351.0,1026.9 353.0,1026.2 355.0,1025.4 C357.0,1024.7 359.0,1023.9 361.0,1023.1 C363.0,1022.4 365.0,1021.6 367.0,1020.8 C369.0,1020.1 371.0,1019.3 373.0,1018.5 C375.0,1017.8 377.0,1017.0 379.0,1016.2 C381.0,1015.4 383.0,1014.7 385.0,1013.9 C387.0,1013.1 389.0,1012.3 391.0,1011.6 C393.0,1010.8 395.0,1010.0 397.0,1009.3 C399.0,1008.5 401.0,1007.7 403.0,1006.9 C405.0,1006.2 407.0,1005.4 409.0,1004.6 C411.0,1003.8 413.0,1003.1 415.0,1002.3 C417.0,1001.5 419.0,1000.7 421.0,1000.0 C423.0,999.2 425.0,998.4 427.0,997.7 C429.0,996.9 431.0,996.1 433.0,995.4 C435.0,994.6 437.0,993.8 439.0,993.1 C441.0,992.3 443.0,991.5 445.0,990.8 C447.0,990.0 449.0,989.3 451.0,988.5 C453.0,987.7 455.0,987.0 457.0,986.2 C459.0,985.5 461.0,984.7 463.0,984.0 C465.0,983.3 467.0,982.5 469.0,981.8 C471.0,981.0 473.0,980.3 475.0,979.6 C477.0,978.8 479.0,978.1 481.0,977.4 C483.0,976.7 485.0,975.9 487.0,975.2 C489.0,974.5 491.0,973.8 493.0,973.1 C495.0,972.4 497.0,971.7 499.0,971.0 C501.0,970.3 503.0,969.6 505.0,968.9 C507.0,968.2 509.0,967.5 511.0,966.8 C513.0,966.1 515.0,965.4 517.0,964.8 C519.0,964.1 521.0,963.4 523.0,962.7 C525.0,962.0 527.0,961.3 529.0,960.6 C531.0,959.9 533.0,959.2 535.0,958.5 C537.0,957.8 539.0,957.0 541.0,956.3 C543.0,955.5 545.0,954.7 547.0,953.9 C549.0,953.1 551.0,952.2 553.0,951.4 C555.0,950.5 557.0,949.6 559.0,948.7 C561.0,947.7 563.0,946.8 565.0,945.8 C567.0,944.7 569.0,943.7 571.0,942.6 C573.0,941.5 575.0,940.4 577.0,939.2 C579.0,938.0 581.0,936.7 583.0,935.4 C585.0,934.1 587.0,932.8 589.0,931.4 C591.0,930.0 593.0,928.5 595.0,927.0 C597.0,925.4 599.0,923.8 601.0,922.1 C603.0,920.5 605.0,918.7 607.0,916.9 C609.0,915.1 611.0,913.2 613.0,911.2 C615.0,909.3 617.0,907.2 619.0,905.1 C621.0,903.0 623.0,900.8 625.0,898.6 C627.0,896.3 629.0,894.0 631.0,891.7 C633.0,889.4 635.0,887.0 637.0,884.5 C639.0,882.1 641.0,879.6 643.0,877.1 C645.0,874.5 647.0,872.0 649.0,869.4 C651.0,866.8 653.0,864.2 655.0,861.5 C657.0,858.9 659.0,856.2 661.0,853.6 C663.0,850.9 665.0,848.2 667.0,845.5 C669.0,842.8 671.0,840.1 673.0,837.4 C675.0,834.7 677.0,832.0 679.0,829.3 C681.0,826.6 683.0,823.9 685.0,821.3 C687.0,818.6 689.0,815.9 691.0,813.3 C693.0,810.7 695.0,808.1 697.0,805.5 C699.0,802.9 701.0,800.4 703.0,797.9 C705.0,795.4 707.0,793.0 709.0,790.6 C711.0,788.2 713.0,785.8 715.0,783.5 C717.0,781.3 719.3,778.7 721.0,776.9 C722.7,775.0 724.4,773.3 725.1,772.6" fill="none" stroke="#e6690b" stroke-width="4.6"/>
<path d="M115.0,1084.1 C116.0,1084.1 119.0,1083.8 121.0,1083.6 C123.0,1083.4 125.0,1083.1 127.0,1082.9 C129.0,1082.6 131.0,1082.3 133.0,1082.0 C135.0,1081.7 137.0,1081.4 139.0,1081.1 C141.0,1080.8 143.0,1080.4 145.0,1080.0 C147.0,1079.7 149.0,1079.3 151.0,1078.9 C153.0,1078.4 155.0,1078.0 157.0,1077.6 C159.0,1077.1 161.0,1076.7 163.0,1076.2 C165.0,1075.7 167.0,1075.2 169.0,1074.7 C171.0,1074.2 173.0,1073.6 175.0,1073.1 C177.0,1072.6 179.0,1072.0 181.0,1071.4 C183.0,1070.8 185.0,1070.3 187.0,1069.7 C189.0,1069.0 191.0,1068.4 193.0,1067.8 C195.0,1067.2 197.0,1066.5 199.0,1065.9 C201.0,1065.2 203.0,1064.5 205.0,1063.9 C207.0,1063.2 209.0,1062.5 211.0,1061.8 C213.0,1061.1 215.0,1060.4 217.0,1059.6 C219.0,1058.9 221.0,1058.2 223.0,1057.4 C225.0,1056.7 227.0,1055.9 229.0,1055.1 C231.0,1054.4 233.0,1053.6 235.0,1052.8 C237.0,1052.0 239.0,1051.2 241.0,1050.4 C243.0,1049.6 245.0,1048.8 247.0,1048.0 C249.0,1047.2 251.0,1046.3 253.0,1045.5 C255.0,1044.7 257.0,1043.8 259.0,1043.0 C261.0,1042.1 263.0,1041.3 265.0,1040.4 C267.0,1039.5 269.0,1038.7 271.0,1037.8 C273.0,1036.9 275.0,1036.1 277.0,1035.2 C279.0,1034.3 281.0,1033.4 283.0,1032.5 C285.0,1031.7 287.0,1030.8 289.0,1029.9 C291.0,1029.0 293.0,1028.1 295.0,1027.2 C297.0,1026.3 299.0,1025.4 301.0,1024.5 C303.0,1023.6 305.0,1022.7 307.0,1021.8 C309.0,1020.9 311.0,1020.0 313.0,1019.1 C315.0,1018.2 317.0,1017.2 319.0,1016.3 C321.0,1015.4 323.0,1014.5 325.0,1013.6 C327.0,1012.7 329.0,1011.8 331.0,1010.9 C333.0,1010.0 335.0,1009.1 337.0,1008.2 C339.0,1007.3 341.0,1006.4 343.0,1005.5 C345.0,1004.6 347.0,1003.8 349.0,1002.9 C351.0,1002.0 353.0,1001.1 355.0,1000.2 C357.0,999.3 359.0,998.5 361.0,997.6 C363.0,996.7 365.0,995.9 367.0,995.0 C369.0,994.2 371.0,993.3 373.0,992.4 C375.0,991.6 377.0,990.8 379.0,989.9 C381.0,989.1 383.0,988.2 385.0,987.4 C387.0,986.6 389.0,985.7 391.0,984.9 C393.0,984.1 395.0,983.2 397.0,982.4 C399.0,981.6 401.0,980.8 403.0,979.9 C405.0,979.1 407.0,978.3 409.0,977.5 C411.0,976.7 413.0,975.9 415.0,975.1 C417.0,974.2 419.0,973.4 421.0,972.6 C423.0,971.8 425.0,971.0 427.0,970.2 C429.0,969.4 431.0,968.6 433.0,967.8 C435.0,967.0 437.0,966.2 439.0,965.4 C441.0,964.6 443.0,963.7 445.0,962.9 C447.0,962.1 449.0,961.3 451.0,960.5 C453.0,959.7 455.0,958.9 457.0,958.1 C459.0,957.3 461.0,956.5 463.0,955.7 C465.0,954.8 467.0,954.0 469.0,953.2 C471.0,952.4 473.0,951.5 475.0,950.7 C477.0,949.9 479.0,949.0 481.0,948.2 C483.0,947.3 485.0,946.4 487.0,945.5 C489.0,944.6 491.0,943.7 493.0,942.8 C495.0,941.9 497.0,940.9 499.0,940.0 C501.0,939.0 503.0,938.0 505.0,937.0 C507.0,936.0 509.0,934.9 511.0,933.9 C513.0,932.8 515.0,931.7 517.0,930.6 C519.0,929.4 521.0,928.3 523.0,927.1 C525.0,925.9 527.0,924.6 529.0,923.3 C531.0,922.1 533.0,920.7 535.0,919.4 C537.0,918.0 539.0,916.6 541.0,915.2 C543.0,913.7 545.0,912.2 547.0,910.7 C549.0,909.2 551.0,907.6 553.0,905.9 C555.0,904.3 557.0,902.6 559.0,900.8 C561.0,899.1 563.0,897.3 565.0,895.4 C567.0,893.6 569.0,891.7 571.0,889.7 C573.0,887.7 575.0,885.7 577.0,883.7 C579.0,881.6 581.0,879.6 583.0,877.4 C585.0,875.3 587.0,873.1 589.0,870.9 C591.0,868.7 593.0,866.5 595.0,864.3 C597.0,862.0 599.0,859.7 601.0,857.4 C603.0,855.1 605.0,852.8 607.0,850.4 C609.0,848.1 611.0,845.7 613.0,843.3 C615.0,840.9 617.0,838.5 619.0,836.1 C621.0,833.7 623.0,831.3 625.0,828.9 C627.0,826.5 629.0,824.1 631.0,821.7 C633.0,819.2 635.0,816.8 637.0,814.4 C639.0,812.0 641.0,809.6 643.0,807.2 C645.0,804.8 647.0,802.4 649.0,800.1 C651.0,797.7 653.0,795.3 655.0,793.0 C657.0,790.7 659.0,788.4 661.0,786.1 C663.0,783.8 665.0,781.5 667.0,779.3 C669.0,777.1 671.0,774.9 673.0,772.8 C675.0,770.6 677.0,768.5 679.0,766.5 C681.0,764.5 683.0,762.5 685.0,760.5 C687.0,758.6 689.0,756.7 691.0,754.9 C693.0,753.1 695.0,751.4 697.0,749.8 C699.0,748.1 701.0,746.6 703.0,745.1 C705.0,743.6 707.0,742.3 709.0,741.0 C711.0,739.7 713.0,738.5 715.0,737.5 C717.0,736.4 719.2,735.4 721.0,734.6 C722.8,733.9 724.9,733.2 725.7,732.9" fill="none" stroke="#d5001b" stroke-width="4.6"/>
<line x1="727.6" y1="667.4" x2="727.6" y2="1143" stroke="#231f20" stroke-width="4.6" stroke-dasharray="17.5 17.7"/>
<rect x="209.80" y="789.70" width="4.80" height="50.00" fill="#d5001b" />
<polygon points="202.6,838.2 221.79999999999998,838.2 212.2,861.2" fill="#d5001b"/>
<rect x="245.20" y="789.70" width="4.80" height="50.00" fill="#e6690b" />
<polygon points="238.0,838.2 257.2,838.2 247.6,861.2" fill="#e6690b"/>
<rect x="346.90" y="789.70" width="4.80" height="50.00" fill="#ebb538" />
<polygon points="339.7,838.2 358.90000000000003,838.2 349.3,861.2" fill="#ebb538"/>
<rect x="457.10" y="789.70" width="4.80" height="50.00" fill="#41b9dc" />
<polygon points="449.9,838.2 469.1,838.2 459.5,861.2" fill="#41b9dc"/>
<rect x="586.50" y="1004.50" width="56.40" height="4.60" fill="#d5001b" />
<rect x="586.50" y="1042.20" width="56.40" height="4.60" fill="#e6690b" />
<rect x="586.50" y="1075.10" width="56.40" height="4.60" fill="#ebb538" />
<rect x="584.30" y="1113.40" width="56.60" height="4.60" fill="#41b9dc" />
<text x="647.55" y="1013.0" font-size="31" text-anchor="start" fill="#231f20" >CM</text>
<text x="647.18" y="1054.0" font-size="31" text-anchor="start" fill="#231f20" >VPL</text>
<text x="646.5" y="1086.7" font-size="31" text-anchor="start" fill="#231f20" >PUL</text>
<text x="645.54" y="1125.0" font-size="31" text-anchor="start" fill="#231f20" >VA</text>
<text x="759" y="641.3" font-size="39" text-anchor="start" fill="#231f20" font-weight="bold" >d</text>
<text x="975.42" y="645.3" font-size="31" text-anchor="start" fill="#231f20" >Sequence of activation onset</text>
<line x1="872.4" y1="657.8" x2="872.4" y2="1144.5" stroke="#231f20" stroke-width="2.1" />
<line x1="871.35" y1="1143.4" x2="1486" y2="1143.4" stroke="#231f20" stroke-width="2.1" />
<line x1="872.4" y1="706.9" x2="879.6" y2="706.9" stroke="#231f20" stroke-width="2" />
<line x1="872.4" y1="755.5" x2="879.6" y2="755.5" stroke="#231f20" stroke-width="2" />
<line x1="872.4" y1="804.1" x2="879.6" y2="804.1" stroke="#231f20" stroke-width="2" />
<line x1="872.4" y1="852.7" x2="879.6" y2="852.7" stroke="#231f20" stroke-width="2" />
<line x1="872.4" y1="901.3" x2="879.6" y2="901.3" stroke="#231f20" stroke-width="2" />
<line x1="872.4" y1="949.9" x2="879.6" y2="949.9" stroke="#231f20" stroke-width="2" />
<line x1="872.4" y1="998.3" x2="879.6" y2="998.3" stroke="#231f20" stroke-width="2" />
<line x1="872.4" y1="1046.8" x2="879.6" y2="1046.8" stroke="#231f20" stroke-width="2" />
<line x1="872.4" y1="1095.3" x2="879.6" y2="1095.3" stroke="#231f20" stroke-width="2" />
<line x1="995.1" y1="1143" x2="995.1" y2="1136.2" stroke="#231f20" stroke-width="2" />
<line x1="1117.6" y1="1143" x2="1117.6" y2="1136.2" stroke="#231f20" stroke-width="2" />
<line x1="1240.1" y1="1143" x2="1240.1" y2="1136.2" stroke="#231f20" stroke-width="2" />
<line x1="1362.6" y1="1143" x2="1362.6" y2="1136.2" stroke="#231f20" stroke-width="2" />
<line x1="1485.1" y1="1143" x2="1485.1" y2="1136.2" stroke="#231f20" stroke-width="2" />
<text x="861.15" y="713.15" font-size="31" text-anchor="end" fill="#231f20" >VA</text>
<text x="859.3" y="762.2" font-size="31" text-anchor="end" fill="#231f20" >MD</text>
<text x="860.81" y="810.98" font-size="31" text-anchor="end" fill="#231f20" >AV</text>
<text x="858.77" y="859.49" font-size="31" text-anchor="end" fill="#231f20" >VLA</text>
<text x="857.75" y="907.37" font-size="31" text-anchor="end" fill="#231f20" >LGN</text>
<text x="858.8" y="955.88" font-size="31" text-anchor="end" fill="#231f20" >VLP</text>
<text x="857.99" y="1003.92" font-size="31" text-anchor="end" fill="#231f20" >PUL</text>
<text x="857.6" y="1053.5" font-size="31" text-anchor="end" fill="#231f20" >VPL</text>
<text x="858.4" y="1102.0" font-size="31" text-anchor="end" fill="#231f20" >CM</text>
<text x="861.92" y="1176.0" font-size="31" text-anchor="start" fill="#231f20" >-9</text>
<text x="975.22" y="1176.0" font-size="31" text-anchor="start" fill="#231f20" >-8</text>
<text x="1098.5" y="1176" font-size="31" text-anchor="start" fill="#231f20" >-7</text>
<text x="1220.6" y="1176.0" font-size="31" text-anchor="start" fill="#231f20" >-6</text>
<text x="1339.75" y="1176.0" font-size="31" text-anchor="start" fill="#231f20" >-5</text>
<text x="1451.8" y="1176.0" font-size="31" text-anchor="start" fill="#231f20" >-4</text>
<text x="920.56" y="1203.1" font-size="31" text-anchor="start" fill="#231f20" >Time relative to behavioral arousal (s)</text>
<text x="0" y="0" font-size="31" text-anchor="start" fill="#231f20" transform="translate(789.70,997.50) rotate(-90)">Thalamic nuclei</text>
<rect x="1440.10" y="687.50" width="4.80" height="38.80" fill="#41bde0" />
<rect x="1425.10" y="736.10" width="4.80" height="38.80" fill="#0eaa4f" />
<rect x="1379.30" y="784.70" width="4.80" height="38.80" fill="#2c3d8a" />
<rect x="1349.20" y="833.30" width="4.80" height="38.80" fill="#6050a0" />
<rect x="1273.20" y="881.90" width="4.80" height="38.80" fill="#6cb93a" />
<rect x="1235.10" y="930.50" width="4.80" height="38.80" fill="#0a9190" />
<rect x="1212.40" y="978.90" width="4.80" height="38.80" fill="#ecb535" />
<rect x="1015.00" y="1027.40" width="4.80" height="38.80" fill="#e6700f" />
<rect x="939.40" y="1075.90" width="4.80" height="38.80" fill="#d7001f" />
</svg>
</body></html>
